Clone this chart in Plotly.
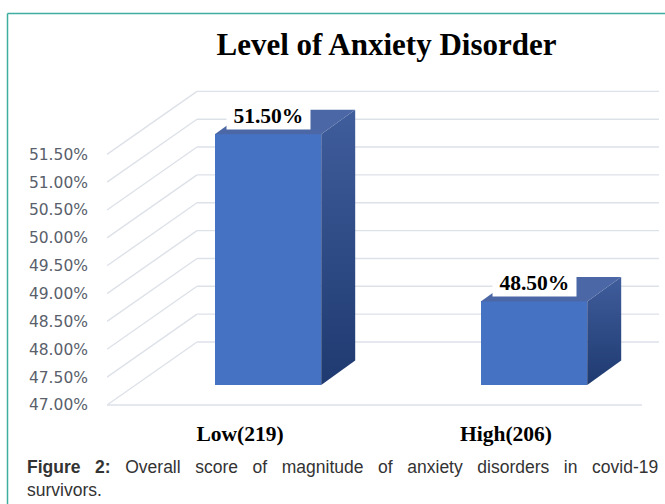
import plotly.graph_objects as go

# ---------------- data ----------------
categories = ["Low(219)", "High(206)"]
values = [51.50, 48.50]
y_ticks = [47.0, 47.5, 48.0, 48.5, 49.0, 49.5, 50.0, 50.5, 51.0, 51.5]
y_tick_labels = ["47.00%", "47.50%", "48.00%", "48.50%", "49.00%",
                 "49.50%", "50.00%", "50.50%", "51.00%", "51.50%"]
y_base = 47.0
title_text = "Level of Anxiety Disorder"
caption_label = "Figure 2:"
caption_text = "Overall score of magnitude of anxiety disorders in covid-19 survivors."

# ---------------- geometry (pixels) ----------------
W, H = 665, 504
L, R, T, B = 107, 6, 85, 94          # plot area 107..659 x 85..410
UX = 266.0                            # px per category step
UY = 55.7                             # px per 1 %
X0_PX = 240.0                         # pixel of category 0 on front plane
Y0_PX = 405.0                         # pixel of 47 % on front plane

x_range = [(L - X0_PX) / UX, (W - R - X0_PX) / UX]
y_range = [y_base - (H - B - Y0_PX) / UY, y_base + (Y0_PX - T) / UY]

# bar plane (recessed inside the 3D box)
BX, BY = 28 / UX, 20 / UY
x2_range = [x_range[0] - BX, x_range[1] - BX]
y2_range = [y_range[0] - BY, y_range[1] - BY]

# full depth of the box and bar depth
DX, DY = 90 / UX, 63 / UY
bdx, bdy = 34 / UX, 24.5 / UY
bar_w = 0.40

x_pos = list(range(len(categories)))

def pxx(p):
    return (p - L) / (W - L - R)

def pxy(q):
    return (H - B - q) / (H - T - B)

grid_col = "#dde1e8"
shapes = []
for v in y_ticks:
    # side wall diagonal
    shapes.append(dict(type="line", xref="x", yref="y", layer="below",
                       x0=x_range[0], y0=v, x1=x_range[0] + DX, y1=v + DY,
                       line=dict(color=grid_col, width=1.4)))
    # back wall line
    shapes.append(dict(type="line", xref="x", yref="y", layer="below",
                       x0=x_range[0] + DX, y0=v + DY, x1=x_range[1], y1=v + DY,
                       line=dict(color=grid_col, width=1.4)))
# floor front edge
shapes.append(dict(type="line", xref="x", yref="y", layer="below",
                   x0=x_range[0], y0=y_base, x1=(642 - X0_PX) / UX, y1=y_base,
                   line=dict(color=grid_col, width=1.4)))

# outer teal frame
teal = "#3fae9f"
shapes.append(dict(type="line", xref="paper", yref="paper",
                   x0=pxx(7.5), y0=pxy(13.5), x1=pxx(W + 2), y1=pxy(13.5),
                   line=dict(color=teal, width=1.5)))
shapes.append(dict(type="line", xref="paper", yref="paper",
                   x0=pxx(7.5), y0=pxy(13.5), x1=pxx(7.5), y1=pxy(H + 2),
                   line=dict(color=teal, width=1.5)))

fig = go.Figure()

# invisible trace to anchor the front-plane axes
fig.add_trace(go.Scatter(x=x_pos, y=values, mode="markers", marker=dict(opacity=0),
                         showlegend=False, hoverinfo="skip", xaxis="x", yaxis="y"))

# front faces of the bars
fig.add_trace(go.Bar(x=x_pos, y=[v - y_base for v in values], base=[y_base] * len(values),
                     width=bar_w, marker=dict(color="#4672c4", line=dict(width=0)),
                     showlegend=False, hoverinfo="skip", xaxis="x2", yaxis="y2"))

# side and top faces
for xi, v in zip(x_pos, values):
    xr = xi + bar_w / 2
    xl = xi - bar_w / 2
    fig.add_trace(go.Scatter(
        x=[xr, xr, xr + bdx, xr + bdx, xr], y=[y_base, v, v + bdy, y_base + bdy, y_base],
        fill="toself", mode="lines", line=dict(width=0),
        fillgradient=dict(type="vertical", colorscale=[[0, "#1f3a70"], [1, "#405d9c"]]),
        showlegend=False, hoverinfo="skip", xaxis="x2", yaxis="y2"))
    fig.add_trace(go.Scatter(
        x=[xl, xr, xr + bdx, xl + bdx, xl], y=[v, v, v + bdy, v + bdy, v],
        fill="toself", mode="lines", line=dict(width=0), fillcolor="#4b67a6",
        showlegend=False, hoverinfo="skip", xaxis="x2", yaxis="y2"))

annotations = []
nb = "\u00a0"
for xi, v in zip(x_pos, values):
    annotations.append(dict(xref="x2", yref="y2", x=xi, y=v, yshift=18,
                            text=nb + f"{v:.2f}%" + nb, showarrow=False,
                            bgcolor="white", borderpad=1,
                            font=dict(family="Liberation Serif", size=21.5,
                                      color="black", weight="bold")))

words = caption_text.split(" ")
gap = nb * 3
cap = ("<b>" + caption_label.replace(" ", gap) + "</b>" + gap + gap.join(words[:-1])
       + "<br>" + words[-1])
annotations.append(dict(xref="paper", yref="paper", x=pxx(25), y=pxy(455),
                        xanchor="left", yanchor="top", align="left", showarrow=False,
                        text=cap, font=dict(family="Liberation Sans", size=17.5, color="#333333")))

fig.update_layout(
    width=W, height=H, autosize=False,
    margin=dict(l=L, r=R, t=T, b=B, pad=0),
    paper_bgcolor="white", plot_bgcolor="white",
    title=dict(text=title_text, xref="container", yref="container",
               x=386.5 / W, xanchor="center", y=1 - 44 / H, yanchor="middle",
               font=dict(family="Liberation Serif", size=31, color="black", weight="bold")),
    xaxis=dict(range=x_range, tickvals=x_pos, ticktext=categories, showgrid=False,
               zeroline=False, showline=False, ticks="", ticklabelstandoff=8,
               tickfont=dict(family="Liberation Serif", size=21.5, color="black", weight="bold")),
    yaxis=dict(range=y_range, tickvals=y_ticks, ticktext=y_tick_labels,
               showgrid=False, zeroline=False, showline=False, ticks="",
               ticklabelstandoff=18,
               tickfont=dict(family="DejaVu Sans", size=15.5, color="#5a5f6c")),
    xaxis2=dict(range=x2_range, overlaying="x", visible=False),
    yaxis2=dict(range=y2_range, overlaying="y", visible=False),
    shapes=shapes, annotations=annotations, showlegend=False,
    bargap=0,
)

fig.write_html("out.html", config={"displayModeBar": False},
               post_script="document.body.style.margin='0px';")
